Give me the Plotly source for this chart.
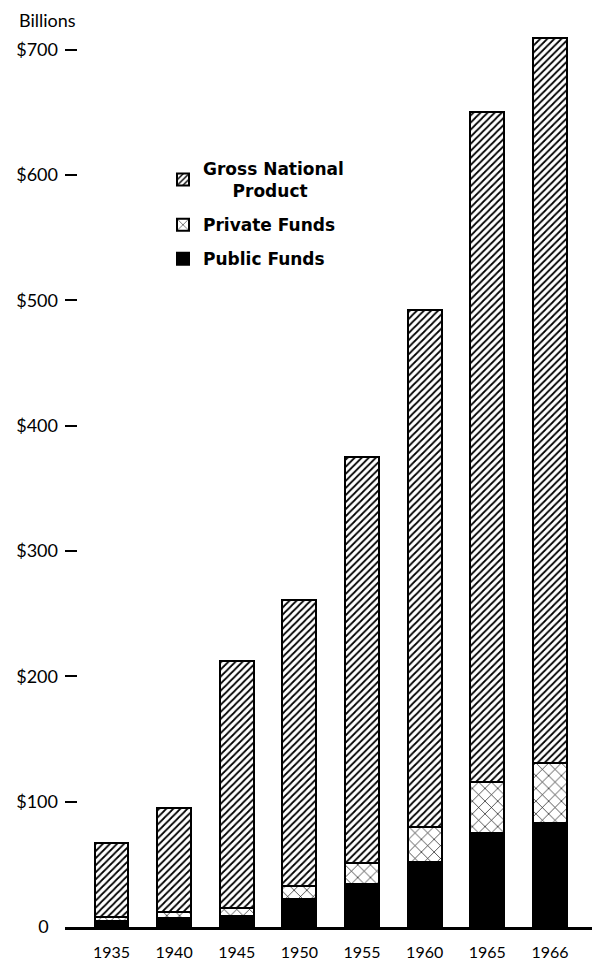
import plotly.graph_objects as go

years = ["1935", "1940", "1945", "1950", "1955", "1960", "1965", "1966"]
gnp = [67, 95, 212, 261, 375, 492, 650, 709]
private_funds = [3, 5, 6, 11, 17, 28, 41, 48]
public_funds = [5, 7, 9, 22, 34, 52, 75, 83]

y_ticks = [0, 100, 200, 300, 400, 500, 600, 700]
y_ticktext = ["0\u00a0\u00a0", "$100", "$200", "$300", "$400", "$500", "$600", "$700"]

health_total = [a + b for a, b in zip(private_funds, public_funds)]
gnp_rest = [g - h for g, h in zip(gnp, health_total)]

outline = dict(color="black", width=2)
bw = 0.54

fig = go.Figure()
fig.add_trace(go.Bar(
    x=years, y=public_funds, name="Public Funds", width=bw,
    legendgroup="c", legendrank=3,
    marker=dict(color="black", line=outline),
))
fig.add_trace(go.Bar(
    x=years, y=private_funds, name="Private Funds", width=bw,
    legendgroup="b", legendrank=2,
    marker=dict(color="white", line=outline,
                pattern=dict(shape="x", size=9, solidity=0.14,
                             fgcolor="black", bgcolor="white", fillmode="replace")),
))
fig.add_trace(go.Bar(
    x=years, y=gnp_rest, name="Gross National<br>\u00a0\u00a0\u00a0\u00a0\u00a0Product",
    width=bw, legendgroup="a", legendrank=1,
    marker=dict(color="white", line=outline,
                pattern=dict(shape="/", size=5, solidity=0.35,
                             fgcolor="black", bgcolor="white", fillmode="replace")),
))

# plot area in page pixels: x 65..598, y 12..927 (page has an 8px body offset)
PL, PR, PT, PB = 65, 598, 12, 927
PW, PH = PR - PL, PB - PT

fig.update_layout(
    width=592, height=955,
    margin=dict(l=PL - 8, r=592 - (PR - 8), t=PT - 8, b=955 - (PB - 8)),
    paper_bgcolor="white", plot_bgcolor="white",
    barmode="stack", bargap=0.4,
    showlegend=True,
    legend=dict(
        x=(163 - PL) / PW, y=1 - (151 - PT) / PH, xanchor="left", yanchor="top",
        traceorder="grouped", tracegroupgap=9,
        font=dict(family="DejaVu Sans", size=17, color="black", weight="bold"),
        bgcolor="rgba(0,0,0,0)",
    ),
    xaxis=dict(
        type="category", range=[-0.742, 7.767],
        showline=True, linecolor="black", linewidth=2.5,
        ticks="", showgrid=False, zeroline=False,
        tickfont=dict(family="Lato", size=16, color="black"),
        ticklabelstandoff=9,
    ),
    yaxis=dict(
        range=[0, 730], tickvals=y_ticks, ticktext=y_ticktext,
        ticks="inside", ticklen=12, tickwidth=1.5, tickcolor="black",
        showline=False, showgrid=False, zeroline=False,
        tickfont=dict(family="Lato", size=18, color="black"), ticklabelstandoff=6,
    ),
    yaxis2=dict(
        range=[0, 730], overlaying="y", side="right",
        tickvals=y_ticks[1:], ticks="inside", ticklen=12, tickwidth=1.5, tickcolor="black",
        showticklabels=False, showline=False, showgrid=False, zeroline=False,
    ),
    annotations=[dict(
        text="Billions", xref="paper", yref="paper",
        x=(17 - PL) / PW, y=1 - (20 - PT) / PH, xanchor="left", yanchor="middle",
        showarrow=False, font=dict(family="Lato", size=18, color="black"),
    )],
)

fig.write_html("out.html")
